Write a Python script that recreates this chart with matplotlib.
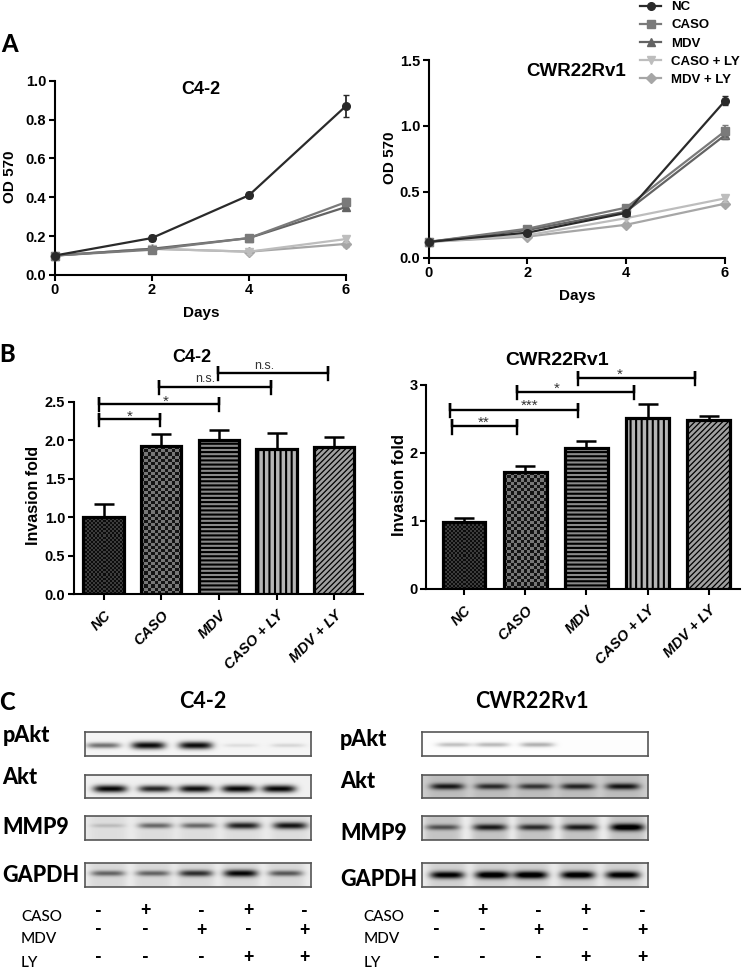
import matplotlib
matplotlib.use("Agg")
import matplotlib.pyplot as plt
import numpy as np

W, H = 745, 969
plt.rcParams['font.family'] = ['Liberation Sans', 'DejaVu Sans']
plt.rcParams['font.weight'] = 'bold'

# growth curves, panel A
days = [0, 2, 4, 6]
groups = ["NC", "CASO", "MDV", "CASO + LY", "MDV + LY"]
c42_od = [[0.10, 0.19, 0.41, 0.87],
          [0.10, 0.13, 0.19, 0.375],
          [0.10, 0.135, 0.19, 0.35],
          [0.10, 0.135, 0.12, 0.185],
          [0.10, 0.135, 0.12, 0.16]]
c42_err = [[0.0, 0.015, 0.015, 0.055],
           [0.0, 0.01, 0.01, 0.02],
           [0.0, 0.01, 0.01, 0.01],
           [0.0, 0.01, 0.01, 0.015],
           [0.0, 0.01, 0.01, 0.015]]
rv1_od = [[0.12, 0.19, 0.34, 1.19],
          [0.12, 0.22, 0.38, 0.96],
          [0.12, 0.21, 0.35, 0.93],
          [0.12, 0.17, 0.30, 0.45],
          [0.12, 0.16, 0.25, 0.41]]
rv1_err = [[0.01, 0.01, 0.01, 0.035],
           [0.01, 0.01, 0.01, 0.05],
           [0.01, 0.01, 0.01, 0.03],
           [0.01, 0.01, 0.01, 0.025],
           [0.01, 0.01, 0.01, 0.02]]

# invasion bars, panel B
c42_fold = [1.0, 1.92, 2.0, 1.88, 1.91]
c42_fold_err = [0.17, 0.16, 0.13, 0.22, 0.13]
rv1_fold = [0.98, 1.72, 2.07, 2.51, 2.48]
rv1_fold_err = [0.06, 0.09, 0.10, 0.21, 0.07]

# significance brackets: start bar, end bar, height, label
c42_sig = [(-0.08, 0.98, 2.27, "*"), (-0.08, 2.01, 2.47, "*"),
           (0.97, 2.90, 2.69, "n.s."), (1.99, 3.89, 2.87, "n.s.")]
c42_sig_label = [(0.45, 2.31), (1.07, 2.50), (1.76, 2.80), (2.78, 2.96)]
rv1_sig = [(-0.20, 0.86, 2.39, "**"), (-0.23, 1.87, 2.63, "***"),
           (0.86, 2.78, 2.90, "*"), (1.86, 3.78, 3.10, "*")]
rv1_sig_label = [(0.32, 2.44), (1.07, 2.69), (1.52, 2.94), (2.55, 3.15)]

# western blots, panel C: band strength per lane
blot_names = ["pAkt", "Akt", "MMP9", "GAPDH"]
c42_bands = [[0.55, 0.98, 0.98, 0.10, 0.13],
             [0.98, 0.85, 0.95, 0.98, 0.98],
             [0.15, 0.50, 0.50, 0.80, 0.85],
             [0.50, 0.50, 0.72, 0.90, 0.55]]
c42_lanes = [[0.08, 0.28, 0.49, 0.69, 0.90],
             [0.11, 0.31, 0.49, 0.68, 0.86],
             [0.10, 0.31, 0.50, 0.70, 0.91],
             [0.10, 0.30, 0.49, 0.69, 0.89]]
c42_rows = [0.56, 0.62, 0.40, 0.43]
rv1_bands = [[0.25, 0.28, 0.32, 0.0, 0.0],
             [0.70, 0.62, 0.58, 0.65, 0.72],
             [0.50, 0.72, 0.65, 0.72, 0.95],
             [0.92, 1.00, 1.00, 0.98, 0.95]]
rv1_lanes = [[0.14, 0.31, 0.51, 0.70, 0.90],
             [0.11, 0.31, 0.50, 0.69, 0.89],
             [0.09, 0.30, 0.50, 0.70, 0.91],
             [0.11, 0.31, 0.48, 0.69, 0.89]]
rv1_rows = [0.53, 0.52, 0.47, 0.50]
# extra grey of the membrane behind each lane
c42_smear = [0.0, 0.0, 0.05, 0.08]
rv1_smear = [0.0, 0.06, 0.16, 0.10]
c42_bg = [0.96, 0.94, 0.92, 0.93]
rv1_bg = [0.99, 0.80, 0.93, 0.92]
caso_signs = ["-", "+", "-", "+", "-"]
mdv_signs = ["-", "-", "+", "-", "+"]
ly_signs = ["-", "-", "-", "+", "+"]

colors = ["#2a2a2a", "#7a7a7a", "#636363", "#bdbdbd", "#a6a6a6"]
markers = ["o", "s", "^", "v", "D"]
bar_hatch = [None, None, "----", "|||", "//////"]
hatch_lw = [0, 0, 1.5, 1.5, 0.9]
bar_face = ["#333333", "#777777", "#8a8a8a", "#b5b5b5", "#a0a0a0"]

fig = plt.figure(figsize=(W / 100, H / 100), dpi=100)


def ax_px(x0, x1, y_top, y_bot):
    return fig.add_axes([x0 / W, 1 - y_bot / H, (x1 - x0) / W, (y_bot - y_top) / H])


def text_px(x, y, s, **kw):
    kw.setdefault("ha", "center")
    kw.setdefault("va", "center")
    fig.text(x / W, 1 - y / H, s, **kw)


def clean_axes(ax):
    ax.spines["top"].set_visible(False)
    ax.spines["right"].set_visible(False)
    ax.spines["left"].set_linewidth(1.5)
    ax.spines["bottom"].set_linewidth(1.5)
    ax.tick_params(width=1.5, length=4, labelsize=10.5, pad=2)


######## Panel A ########

def growth(ax, od, err, ticks):
    lines = []
    for i in range(5):
        line, = ax.plot(days, od[i], color=colors[i], marker=markers[i], ms=5.5,
                        lw=1.6, clip_on=False, zorder=5 - i)
        ax.errorbar(days, od[i], yerr=err[i], fmt="none", ecolor=colors[i],
                    elinewidth=1.3, capsize=2, clip_on=False, zorder=5 - i)
        lines.append(line)
    clean_axes(ax)
    ax.set_xlim(0, 6)
    ax.set_xticks(days)
    ax.set_yticks(ticks)
    ax.set_yticklabels(["%.1f" % t for t in ticks])
    ax.set_ylim(0, ticks[-1])
    plt.setp(ax.get_xticklabels() + ax.get_yticklabels(), fontweight="bold")
    return lines


ax1 = ax_px(54.6, 346, 80.7, 275)
growth(ax1, c42_od, c42_err, [0, 0.2, 0.4, 0.6, 0.8, 1.0])
ax2 = ax_px(428.5, 725, 60, 257.7)
lines = growth(ax2, rv1_od, rv1_err, [0, 0.5, 1.0, 1.5])

text_px(201, 90, "C4-2", fontsize=13)
text_px(576, 71, "CWR22Rv1", fontsize=13.5)
text_px(201, 313, "Days", fontsize=11)
text_px(577, 296, "Days", fontsize=11)
text_px(10, 177, "OD 570", fontsize=11, rotation=90)
text_px(390, 158, "OD 570", fontsize=11, rotation=90)

fig.legend(lines, groups, loc="upper left", bbox_to_anchor=(640 / W, 1 - 1 / H), frameon=False,
           fontsize=9.5, handlelength=1.6, handletextpad=0.75, labelspacing=0.45,
           borderpad=0, borderaxespad=0)

######## Panel B ########

def invasion(ax, fold, err, ticks, labels, sig, sig_pos, xlim, px_w, px_h):
    ax.set_xlim(*xlim)
    ax.set_ylim(0, ticks[-1])
    pos = np.arange(5)
    bar_w = 0.70
    for i in range(5):
        plt.rcParams["hatch.linewidth"] = hatch_lw[i] if hatch_lw[i] else 1.0
        ax.bar(pos[i], fold[i], width=bar_w, facecolor=bar_face[i] if i > 1 else "none",
               edgecolor="black", linewidth=2.3, hatch=bar_hatch[i], zorder=3)
        if i < 2:
            # checker fill, no matching hatch in matplotlib
            cell = 2.0 if i == 0 else 3.2
            nx = int(bar_w * px_w / cell)
            ny = int(fold[i] / ticks[-1] * px_h / cell)
            yy, xx = np.indices((ny, nx))
            dark, light = ("#0c0c0c", "#3c3c3c") if i == 0 else ("#141414", "#777777")
            cmap = matplotlib.colors.ListedColormap([dark, light])
            ax.imshow((xx + yy) % 2, cmap=cmap, aspect="auto", interpolation="nearest",
                      extent=[pos[i] - bar_w / 2, pos[i] + bar_w / 2, 0, fold[i]], zorder=2)
        ax.errorbar(pos[i], fold[i], yerr=[[0], [err[i]]], fmt="none", ecolor="black",
                    elinewidth=1.8, capsize=7, capthick=1.8, zorder=2)
    ax.set_xlim(*xlim)
    ax.set_ylim(0, ticks[-1])
    clean_axes(ax)
    ax.set_xticks(pos)
    ax.set_xticklabels(groups, rotation=45, ha="right", rotation_mode="anchor",
                       fontsize=10.5, fontstyle="italic", fontweight="bold")
    ax.tick_params(axis="x", pad=6)
    ax.set_yticks(ticks)
    ax.set_yticklabels(labels, fontweight="bold")
    cap = ticks[-1] * 0.035
    for (a, b, y, s), (lx, ly) in zip(sig, sig_pos):
        ax.plot([a, a, a, b, b, b], [y - cap, y + cap, y, y, y + cap, y - cap], color="black",
                lw=1.7, clip_on=False, solid_joinstyle="miter")
        ax.text(lx, ly, s, ha="center", va="center", fontsize=9 if s == "n.s." else 11,
                fontweight="normal", color="#333333", clip_on=False)


ax3 = ax_px(73.6, 363, 401.7, 594.3)
invasion(ax3, c42_fold, c42_fold_err, [0, 0.5, 1.0, 1.5, 2.0, 2.5],
         ["0.0", "0.5", "1.0", "1.5", "2.0", "2.5"], c42_sig, c42_sig_label, (-0.52, 4.5), 57.6, 192.6)
ax3.patch.set_alpha(0)
ax4 = ax_px(426, 740, 385, 589)
invasion(ax4, rv1_fold, rv1_fold_err, [0, 1, 2, 3], ["0", "1", "2", "3"], rv1_sig, rv1_sig_label,
         (-0.62, 4.51), 61.2, 204)
ax4.patch.set_alpha(0)

text_px(192, 358, "C4-2", fontsize=13)
text_px(557, 360, "CWR22Rv1", fontsize=14)
text_px(34, 495, "Invasion fold", fontsize=11.5, rotation=90)
text_px(400, 485, "Invasion fold", fontsize=12, rotation=90)

######## Panel C ########

def blot(x0, y0, strength, lanes, row, bg, smear):
    ax = ax_px(x0, x0 + 226, y0, y0 + 23.5)
    xx, yy = np.meshgrid(np.linspace(0, 1, 226), np.linspace(0, 1, 48))
    img = np.full(xx.shape, bg)
    for s, c in zip(strength, lanes):
        across = np.exp(-((xx - c) / 0.075) ** 4)
        img = img - smear * np.exp(-((xx - c) / 0.085) ** 6)
        img = img - s * 0.95 * across * np.exp(-((yy - row) / (0.07 + 0.09 * s)) ** 2)
    ax.imshow(np.clip(img, 0, 1), cmap="gray", vmin=0, vmax=1, aspect="auto", interpolation="bilinear")
    ax.set_xticks([])
    ax.set_yticks([])
    for sp in ax.spines.values():
        sp.set_color("#555555")
        sp.set_linewidth(1.2)


blot_tops = [732, 774.5, 816, 863]
for i in range(4):
    blot(85, blot_tops[i], c42_bands[i], c42_lanes[i], c42_rows[i], c42_bg[i], c42_smear[i])
    blot(422, blot_tops[i], rv1_bands[i], rv1_lanes[i], rv1_rows[i], rv1_bg[i], rv1_smear[i])

calibri = ["Lato", "DejaVu Sans"]
left_label_y = [736, 777, 828, 875]
right_label_y = [740, 782, 833, 880]
for i in range(4):
    text_px(2.5, left_label_y[i], blot_names[i], ha="left", fontsize=15.5, family=calibri, fontweight=900)
    text_px(340, right_label_y[i], blot_names[i], ha="left", fontsize=15.5, family=calibri, fontweight=900)

text_px(203, 702, "C4-2", fontsize=15.5, family=calibri)
text_px(532, 702, "CWR22Rv1", fontsize=15.5, family=calibri)

# treatment table under the blots
left_cols = [98, 145, 201, 248, 304.5]
right_cols = [436, 482.6, 538.7, 585.7, 642]
row_y = [911, 930, 957.5]
sign_rows = [caso_signs, mdv_signs, ly_signs]
row_names = ["CASO", "MDV", "LY"]
name_y = [917, 939, 963]
for r in range(3):
    text_px(21, name_y[r], row_names[r], ha="left", fontsize=11, family=calibri, fontweight="medium")
    text_px(363.5, name_y[r], row_names[r], ha="left", fontsize=11, family=calibri, fontweight="medium")
    for c in range(5):
        text_px(left_cols[c], row_y[r], sign_rows[r][c], fontsize=13, family=calibri, fontweight=900)
        text_px(right_cols[c], row_y[r], sign_rows[r][c], fontsize=13, family=calibri, fontweight=900)

# panel letters
text_px(9.5, 45, "A", fontsize=17, family=calibri, fontweight=900)
text_px(7, 355, "B", fontsize=17, family=calibri, fontweight=900)
text_px(7, 702, "C", fontsize=17, family=calibri, fontweight=900)

fig.savefig("out.png", dpi=100)
